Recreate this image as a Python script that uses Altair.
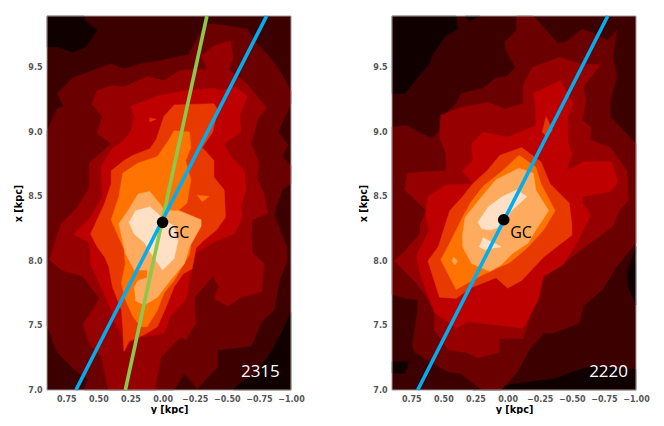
import pandas as pd
import altair as alt

# contour fills, dark to light
COL0, COL1, COL2, COL3, COL4 = "#100000", "#3c0000", "#6b0000", "#960000", "#bf0000"
COL5, COL6, COL7, COL8 = "#e83a00", "#ff7300", "#ffab5f", "#ffe0c4"

# ---- left panel (2315): contour outlines as (y, x) in kpc ----
l_dark_a = [(0.90,9.9),(0.61,9.9),(0.60,9.86),(0.51,9.79),(0.60,9.66),(0.70,9.62),(0.82,9.66),(0.90,9.66)]
l_dark_b = [(-1.0,7.60),(-0.93,7.45),(-0.85,7.30),(-0.78,7.2),(-0.72,7.12),(-0.60,7.05),(-0.55,7.0),(-1.0,7.0)]
l_2 = [(0.90,7.50),(0.90,9.01),(0.82,9.18),(0.77,9.20),(0.82,9.30),(0.70,9.42),(0.51,9.49),(0.40,9.53),(0.30,9.49),
       (0.17,9.53),(0.04,9.55),(-0.20,9.60),(-0.33,9.83),(-0.40,9.84),(-0.66,9.80),(-0.71,9.71),(-0.82,9.60),
       (-0.91,9.48),(-1.0,9.32),(-1.0,9.22),(-0.90,9.0),(-0.98,8.90),(-0.93,8.81),(-1.0,8.74),(-1.0,8.6),(-0.93,8.55),
       (-0.87,8.37),(-0.9,8.28),(-0.97,8.1),(-0.97,8.0),(-0.91,7.85),(-0.87,7.62),(-0.77,7.53),(-0.69,7.34),
       (-0.43,7.31),(-0.43,7.18),(-0.27,7.01),(-0.17,7.13),(-0.09,7.0),(0.61,7.0),(0.58,7.08),(0.69,7.16),(0.82,7.29)]
l_3 = [(0.55,9.22),(0.51,9.32),(0.40,9.36),(0.30,9.35),(0.12,9.43),(-0.01,9.40),(-0.14,9.48),(-0.35,9.49),(-0.30,9.59),
       (-0.40,9.67),(-0.53,9.71),(-0.55,9.57),(-0.51,9.49),(-0.66,9.37),(-0.81,9.19),(-0.74,9.10),(-0.69,8.91),
       (-0.75,8.76),(-0.74,8.63),(-0.79,8.52),(-0.82,8.37),(-0.70,8.32),(-0.69,8.21),(-0.70,8.06),(-0.79,7.98),
       (-0.77,7.76),(-0.61,7.72),(-0.51,7.65),(-0.40,7.71),(-0.44,7.80),(-0.39,7.88),(-0.25,7.72),(-0.25,7.62),
       (-0.26,7.52),(-0.18,7.39),(-0.14,7.41),(0.01,7.26),(0.06,7.0),(0.42,7.0),(0.48,7.26),(0.57,7.36),(0.62,7.51),
       (0.56,7.60),(0.49,7.71),(0.62,7.88),(0.79,7.93),(0.88,8.01),(0.79,8.29),(0.66,8.42),(0.57,8.57),(0.57,8.76),
       (0.40,8.91),(0.51,8.99),(0.47,9.12)]
l_4 = [(0.25,9.20),(0.14,9.24),(0.04,9.28),(-0.17,9.32),(-0.40,9.34),(-0.45,9.32),(-0.57,9.35),(-0.66,9.28),(-0.60,9.13),
       (-0.61,9.0),(-0.48,8.91),(-0.53,8.81),(-0.64,8.70),(-0.65,8.55),(-0.61,8.42),(-0.62,8.34),(-0.56,8.21),
       (-0.40,8.15),(-0.26,8.06),(-0.22,7.90),(-0.18,7.70),(-0.06,7.57),(-0.01,7.44),(0.17,7.41),(0.26,7.36),(0.30,7.29),
       (0.32,7.44),(0.38,7.54),(0.40,7.62),(0.48,7.80),(0.56,7.98),(0.57,8.14),(0.69,8.21),(0.56,8.34),(0.47,8.50),
       (0.48,8.73),(0.40,8.86),(0.30,8.94),(0.25,9.0),(0.22,9.12)]
l_5 = [(-0.01,9.12),(-0.09,9.21),(-0.40,9.22),(-0.43,9.17),(-0.39,9.0),(-0.31,8.88),(-0.40,8.78),(-0.40,8.65),(-0.48,8.55),
       (-0.49,8.34),(-0.42,8.24),(-0.32,8.16),(-0.26,8.10),(-0.23,7.94),(-0.16,7.90),(-0.09,7.80),(-0.03,7.65),(0.04,7.49),
       (0.14,7.43),(0.26,7.38),(0.30,7.30),(0.31,7.49),(0.32,7.62),(0.39,7.80),(0.42,7.96),(0.45,8.03),(0.51,8.11),
       (0.56,8.21),(0.51,8.32),(0.45,8.45),(0.40,8.60),(0.40,8.70),(0.30,8.78),(0.23,8.82),(0.10,8.87),(0.05,8.94)]
l_5_spot = [(0.10,9.11),(0.05,9.10),(0.10,9.08)]
l_6 = [(-0.09,9.01),(-0.21,9.0),(-0.22,8.88),(-0.18,8.78),(-0.22,8.63),(-0.19,8.45),(-0.12,8.39),(-0.22,8.11),(-0.21,8.05),
       (-0.09,7.85),(-0.01,7.75),(0.04,7.62),(0.12,7.49),(0.17,7.49),(0.23,7.57),(0.29,7.70),(0.32,7.83),(0.29,7.98),
       (0.30,8.09),(0.40,8.32),(0.34,8.50),(0.31,8.68),(0.19,8.76),(0.04,8.81),(-0.05,8.94)]
l_6_spot = [(-0.27,8.51),(-0.36,8.50),(-0.31,8.46)]
l_7 = [(0.27,8.39),(0.19,8.52),(0.10,8.54),(0.01,8.43),(-0.01,8.39),(-0.13,8.39),(-0.30,8.32),(-0.30,8.27),(-0.21,8.11),
       (-0.17,7.98),(-0.06,7.85),(0.04,7.72),(0.14,7.66),(0.21,7.69),(0.22,7.80),(0.19,7.85),(0.12,7.87),(0.12,7.93),
       (0.22,7.93),(0.29,8.06),(0.34,8.29)]
l_8 = [(0.26,8.30),(0.21,8.39),(0.10,8.42),(0.05,8.38),(0.0,8.33),(-0.09,8.27),(-0.12,8.16),(-0.09,8.02),(0.0,7.93),
       (0.09,8.06),(0.14,8.14),(0.22,8.21)]

# ---- right panel (2220) ----
r_dark_a = [(0.90,9.9),(0.40,9.9),(0.39,9.80),(0.49,9.74),(0.59,9.59),(0.61,9.53),(0.72,9.40),(0.80,9.30),(0.90,9.30)]
r_dark_b = [(0.33,9.9),(0.30,9.86),(0.22,9.9)]
r_dark_c = [(0.90,7.22),(0.77,7.22),(0.80,7.13),(0.90,7.13)]
r_dark_d = [(0.27,7.0),(-0.38,7.09),(-0.48,7.13),(-0.64,7.18),(-1.0,7.16),(-1.0,7.0)]
r_dark_e = [(-1.0,8.11),(-0.93,7.90),(-0.94,7.80),(-1.0,7.66)]
r_2 = [(-0.07,9.9),(-0.20,9.9),(-0.30,9.79),(-0.39,9.69),(-0.46,9.70),(-0.58,9.80),(-0.68,9.76),(-0.78,9.71),(-0.85,9.79),
       (-0.82,9.58),(-0.85,9.43),(-0.80,9.24),(-0.80,9.12),(-1.0,8.91),(-1.0,8.14),(-0.85,7.96),(-0.74,7.78),(-0.59,7.65),
       (-0.56,7.52),(-0.35,7.44),(-0.28,7.44),(-0.17,7.31),(-0.07,7.13),(0.05,7.0),(0.20,7.0),(0.37,7.13),(0.46,7.14),
       (0.58,7.21),(0.72,7.29),(0.74,7.34),(0.72,7.49),(0.70,7.62),(0.70,7.70),(0.79,7.71),(0.90,7.74),(0.90,9.04),
       (0.79,9.05),(0.59,8.95),(0.53,9.01),(0.53,9.10),(0.40,9.22),(0.36,9.30),(0.19,9.34),(0.09,9.42),(0.01,9.43),
       (-0.06,9.50),(0.01,9.63),(0.02,9.70),(-0.07,9.79)]
r_3 = [(-0.19,9.50),(-0.41,9.58),(-0.56,9.53),(-0.72,9.52),(-0.59,9.35),(-0.61,9.24),(-0.58,9.09),(-0.65,9.04),(-0.64,8.94),
       (-0.80,8.88),(-0.93,8.70),(-0.94,8.47),(-0.87,8.39),(-0.82,8.27),(-0.59,8.10),(-0.43,7.98),(-0.28,7.90),(-0.25,7.79),
       (-0.21,7.67),(-0.12,7.40),(0.06,7.40),(0.07,7.29),(0.23,7.25),(0.32,7.29),(0.46,7.31),(0.57,7.47),(0.57,7.62),
       (0.65,7.75),(0.71,7.83),(0.88,8.0),(0.79,8.09),(0.68,8.21),(0.68,8.29),(0.63,8.39),(0.80,8.55),(0.78,8.68),
       (0.68,8.69),(0.48,8.70),(0.48,8.83),(0.53,8.96),(0.52,9.13),(0.37,9.19),(0.15,9.23),(0.02,9.18),(-0.12,9.22),(-0.12,9.36)]
r_4 = [(-0.41,9.40),(-0.51,9.22),(-0.47,9.12),(-0.47,8.94),(-0.50,8.83),(-0.46,8.70),(-0.59,8.77),(-0.81,8.77),(-0.86,8.61),
       (-0.80,8.54),(-0.59,8.50),(-0.58,8.45),(-0.64,8.37),(-0.64,8.34),(-0.59,8.24),(-0.54,8.14),(-0.43,7.97),(-0.28,7.88),
       (-0.24,7.70),(-0.12,7.48),(0.31,7.53),(0.40,7.48),(0.57,7.60),(0.68,7.90),(0.71,8.04),(0.61,8.24),(0.64,8.36),
       (0.62,8.50),(0.48,8.59),(0.27,8.60),(0.35,8.70),(0.27,8.78),(0.28,8.91),(0.19,9.0),(0.0,8.96),(-0.22,9.05),
       (-0.22,9.19),(-0.20,9.30),(-0.33,9.36)]
r_5_spot = [(-0.30,9.12),(-0.35,9.01),(-0.30,8.97),(-0.27,9.0)]
r_5 = [(-0.11,8.88),(-0.26,8.77),(-0.33,8.60),(-0.48,8.45),(-0.50,8.29),(-0.50,8.20),(-0.28,8.03),(-0.11,7.85),(0.0,7.79),
       (0.09,7.87),(0.29,7.79),(0.40,7.71),(0.53,7.72),(0.62,8.0),(0.54,8.11),(0.45,8.39),(0.35,8.50),(0.27,8.60),(0.16,8.70),(0.06,8.82)]
r_6 = [(-0.09,8.82),(-0.22,8.73),(-0.26,8.60),(-0.37,8.39),(-0.28,8.24),(-0.15,8.10),(-0.02,7.99),(0.09,7.94),(0.20,7.89),
       (0.40,7.78),(0.52,8.01),(0.45,8.14),(0.35,8.34),(0.29,8.45),(0.19,8.58),(0.05,8.69)]
r_7 = [(0.35,8.21),(0.33,8.34),(0.20,8.50),(0.09,8.63),(-0.09,8.72),(-0.20,8.68),(-0.22,8.55),(-0.32,8.39),(-0.22,8.24),
       (-0.16,8.14),(-0.04,8.06),(0.05,7.97),(0.14,7.92),(0.28,7.98),(0.35,8.11)]
r_7_spot = [(0.42,8.03),(0.39,8.0),(0.41,7.97),(0.43,8.0)]
r_8 = [(0.23,8.30),(0.15,8.42),(0.04,8.50),(-0.07,8.55),(-0.15,8.50),(-0.02,8.38),(0.0,8.32),(0.02,8.28),(0.13,8.24),(0.20,8.25)]
r_8_b = [(0.22,8.11),(0.19,8.18),(0.05,8.11),(0.18,8.09)]

left_shapes = [(l_dark_a,COL0),(l_dark_b,COL0),(l_2,COL2),(l_3,COL3),(l_4,COL4),(l_5_spot,COL5),(l_5,COL5),(l_6,COL6),
               (l_6_spot,COL6),(l_7,COL7),(l_8,COL8)]
right_shapes = [(r_dark_a,COL0),(r_dark_b,COL0),(r_dark_c,COL0),(r_dark_d,COL0),(r_dark_e,COL0),(r_2,COL2),(r_3,COL3),(r_4,COL4),
                (r_5_spot,COL5),(r_5,COL5),(r_6,COL6),(r_7,COL7),(r_7_spot,COL7),(r_8,COL8),(r_8_b,COL8)]

# guide lines: y at x=7.0 and y at x=9.9
left_lines = [([0.29,-0.345],"#8cc84b"),([0.675,-0.81],"#00aeef")]
right_lines = [([0.70,-0.78],"#00aeef")]
line_x = [7.0, 9.9]

left_gc = (0.0, 8.30)
right_gc = (0.03, 8.32)
left_gc_label = (-0.04, 8.22)
right_gc_label = (-0.02, 8.22)
left_tag = ("2315", -0.61, 7.14)
right_tag = ("2220", -0.635, 7.14)

y_ticks = [0.75,0.5,0.25,0.0,-0.25,-0.5,-0.75,-1.0]
x_ticks = [7.0,7.5,8.0,8.5,9.0,9.5]
y_domain = [0.9,-1.0]
x_domain = [7.0,9.9]


def X():
    return alt.X("yk:Q", scale=alt.Scale(domain=y_domain, nice=False, zero=False),
                 axis=alt.Axis(title="y [kpc]", values=y_ticks, format=".2f", titlePadding=1))

def Y():
    return alt.Y("xk:Q", scale=alt.Scale(domain=x_domain, nice=False, zero=False),
                 axis=alt.Axis(title="x [kpc]", values=x_ticks, format=".1f", titlePadding=4))

def panel(shapes, lines, gc, gc_label, tag):
    layers = []
    for pts, c in shapes:
        df = pd.DataFrame(pts, columns=["yk","xk"])
        df["i"] = range(len(df))
        layers.append(alt.Chart(df).mark_line(interpolate="linear-closed", fill=c, stroke=c, strokeWidth=0.5)
                      .encode(x=X(), y=Y(), order="i:Q"))
    # spines on top of the filled contours
    box = pd.DataFrame({"yk":[y_domain[0]],"yk2":[y_domain[1]],"xk":[x_domain[0]],"xk2":[x_domain[1]]})
    layers.append(alt.Chart(box).mark_rect(filled=False, stroke="#a39a9a", strokeWidth=1)
                  .encode(x=X(), x2="yk2:Q", y=Y(), y2="xk2:Q"))
    for ys, c in lines:
        df = pd.DataFrame({"yk":ys,"xk":line_x})
        layers.append(alt.Chart(df).mark_line(color=c, strokeWidth=3.6).encode(x=X(), y=Y()))
    dot = pd.DataFrame({"yk":[gc[0]],"xk":[gc[1]]})
    layers.append(alt.Chart(dot).mark_point(filled=True, color="black", size=135, opacity=1).encode(x=X(), y=Y()))
    lab = pd.DataFrame({"yk":[gc_label[0]],"xk":[gc_label[1]],"t":["GC"]})
    layers.append(alt.Chart(lab).mark_text(align="left", baseline="middle", font="Open Sans", fontSize=16, color="black")
                  .encode(x=X(), y=Y(), text="t:N"))
    tg = pd.DataFrame({"yk":[tag[1]],"xk":[tag[2]],"t":[tag[0]]})
    layers.append(alt.Chart(tg).mark_text(align="left", baseline="middle", font="Open Sans", fontSize=17, color="white")
                  .encode(x=X(), y=Y(), text="t:N"))
    return alt.layer(*layers).properties(width=244, height=374)

chart = alt.hconcat(
    panel(left_shapes, left_lines, left_gc, left_gc_label, left_tag),
    panel(right_shapes, right_lines, right_gc, right_gc_label, right_tag),
    spacing=53,
).configure_view(fill=COL1, stroke=None
).configure_axis(
    grid=False, domain=False, ticks=False, labelFont="DejaVu Sans", labelFontWeight="bold", labelFontSize=8,
    labelColor="#555555", titleFont="DejaVu Sans", titleFontWeight="bold", titleFontSize=9.7, titleColor="black",
    labelPadding=5, labelFlush=False, labelOverlap=False
).properties(padding={"left":5,"top":0,"right":0,"bottom":0})

chart.save("out.html", embed_options={"renderer": "svg", "actions": False})
